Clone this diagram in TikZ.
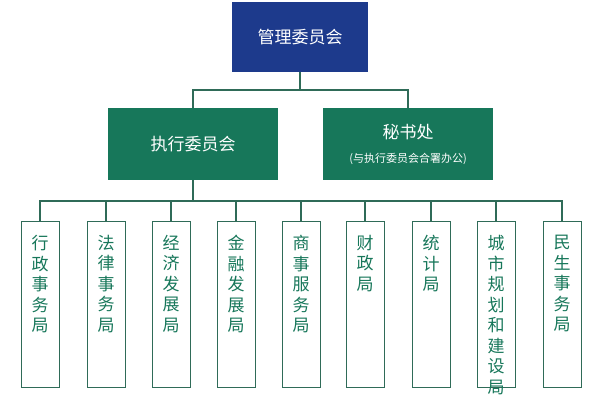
\documentclass[tikz,border=0pt]{standalone}
\usepackage{fontspec}
\setmainfont{Noto Sans CJK SC}
\usetikzlibrary{positioning}
\definecolor{topblue}{HTML}{1D3A8C}
\definecolor{deptgreen}{HTML}{17775A}
\definecolor{linegreen}{HTML}{2F6B58}
\tikzstyle{topbox}  = [rectangle, fill=topblue, text=white, minimum width=136pt, minimum height=70pt, font=\fontsize{17}{20}\selectfont]
\tikzstyle{midbox}  = [rectangle, fill=deptgreen, text=white, minimum width=170pt, minimum height=72pt, align=center, font=\fontsize{17}{22}\selectfont]
\tikzstyle{bureau}  = [rectangle, draw=linegreen, line width=1pt, fill=white, minimum width=38pt, minimum height=166pt, anchor=north]
\tikzstyle{bureautext} = [anchor=north, align=center, text=deptgreen, inner sep=0pt, font=\fontsize{17}{20.5}\selectfont]
\tikzstyle{link}    = [draw=linegreen, line width=1.3pt]

\begin{document}
\begin{tikzpicture}[x=1pt, y=-1pt]
    \useasboundingbox (0,0) rectangle (600,400);
    % 管理委员会
    \node [topbox] (board) at (300,37) {管理委员会};

    % 执行委员会 与 秘书处
    \node [midbox] (exec) at (193,144) {执行委员会};
    \node [midbox] (sec) at (408,144) {秘书处\\[2pt]{\fontsize{11}{13}\selectfont (与执行委员会合署办公)}};

    % 各局
    \foreach \name/\x/\txt in {b1/40/行\\政\\事\\务\\局, b2/106/法\\律\\事\\务\\局, b3/171/经\\济\\发\\展\\局,
        b4/236/金\\融\\发\\展\\局, b5/301/商\\事\\服\\务\\局, b6/365/财\\政\\局,
        b7/431/统\\计\\局, b8/496/城\\市\\规\\划\\和\\建\\设\\局, b9/562/民\\生\\事\\务\\局}
    {
        \node [bureau] (\name) at (\x,221) {};
        \node [bureautext, below=14pt of \name.north] (\name t) {\txt};
    }

    % 连线
    \coordinate (split1) at (300,90);
    \draw [link] (board.south) -- (split1);
    \draw [link] (exec.north) |- (split1) -| (sec.north);
    \coordinate (split2) at (193,201);
    \draw [link] (exec.south) -- (split2);
    \draw [link] (b1.north) |- (split2) -| (b9.north);
    \foreach \name in {b2,b3,b4,b5,b6,b7,b8}
        \draw [link] (\name.north) -- (\name.north |- split2);
\end{tikzpicture}
\end{document}
